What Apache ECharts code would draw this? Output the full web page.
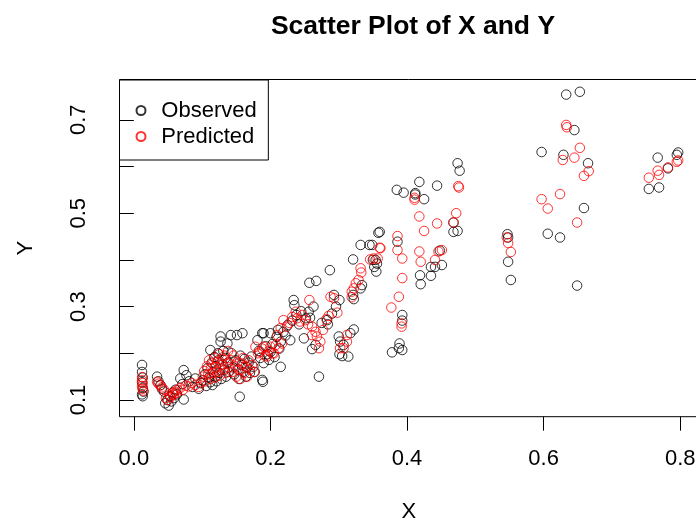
<!DOCTYPE html>
<html><head><meta charset="utf-8">
<script src="https://cdn.jsdelivr.net/npm/echarts@6/dist/echarts.min.js"></script>
<style>html,body{margin:0;padding:0;background:#fff}#c{width:696px;height:521px}</style>
</head><body><div id="c"></div>
<script>
const titleText = 'Scatter Plot of X and Y';
const xName = 'X';
const yName = 'Y';
const seriesNames = ['Observed', 'Predicted'];
const xTicks = [0, 0.2, 0.4, 0.6, 0.8];
const yTicks = [0.1, 0.2, 0.3, 0.4, 0.5, 0.6, 0.7];
const yLabels = [0.1, 0.3, 0.5, 0.7];

const obsX = [
 0.012,0.012,0.013,0.012,0.013,0.014,0.012,0.013,
 0.034,0.036,0.039,0.041,0.044,
 0.046,0.049,0.051,0.053,0.055,0.057,0.059,0.061,0.063,
 0.068,0.071,0.073,0.073,0.077,0.081,0.086,0.090,0.095,0.098,
 0.101,0.104,0.106,0.108,0.110,0.112,0.112,0.114,0.115,0.116,0.118,0.119,0.120,0.121,0.123,0.124,0.125,0.127,0.127,0.128,0.130,0.131,0.133,0.134,0.135,0.137,0.138,0.139,
 0.142,0.143,0.145,0.147,0.149,0.151,0.152,0.154,0.155,0.156,0.158,0.159,0.160,0.162,0.164,0.166,0.168,0.170,0.172,0.175,0.177,
 0.181,0.183,0.185,0.188,0.188,0.189,0.190,0.190,0.193,0.196,0.198,0.200,0.200,0.203,0.206,0.209,0.211,0.213,0.215,0.215,0.219,
 0.222,0.225,0.229,0.232,0.234,0.235,0.238,0.242,0.245,0.249,0.252,0.256,0.257,0.258,0.261,0.263,0.266,0.267,0.271,0.275,
 0.283,0.284,0.287,0.290,0.293,0.296,0.300,0.301,0.301,0.302,0.305,0.307,0.314,0.317,0.321,0.321,0.322,0.322,
 0.332,0.332,0.334,0.345,0.349,0.350,0.352,0.354,0.355,0.356,0.358,0.360,
 0.378,0.385,0.386,0.388,0.389,0.393,0.393,0.393,0.395,
 0.412,0.412,0.418,0.419,0.420,0.425,0.435,0.435,0.441,0.444,0.448,0.451,
 0.468,0.468,0.474,0.474,0.477,
 0.547,0.548,0.548,0.552,
 0.597,0.606,0.624,0.629,0.633,0.645,0.649,0.653,0.659,0.665,
 0.754,0.767,0.769,0.782,0.795,0.797
];
const obsY = [
 0.175,0.160,0.148,0.138,0.126,0.118,0.112,0.108,
 0.150,0.140,0.132,0.124,0.118,
 0.093,0.100,0.088,0.108,0.097,0.116,0.104,0.122,0.112,
 0.146,0.134,0.164,0.101,0.153,0.140,0.128,0.146,0.124,0.136,
 0.142,0.155,0.130,0.168,0.148,0.207,0.138,0.180,0.132,0.160,0.192,0.150,0.172,0.140,0.200,0.185,0.158,0.225,0.236,0.145,0.176,0.205,0.165,0.190,0.150,0.221,0.180,0.160,
 0.239,0.200,0.170,0.155,0.185,0.239,0.165,0.145,0.107,0.195,0.175,0.243,0.160,0.188,0.150,0.170,0.180,0.158,0.193,0.171,0.160,
 0.228,0.205,0.190,0.243,0.143,0.139,0.179,0.243,0.215,0.198,0.186,0.243,0.203,0.220,0.192,0.235,0.250,0.210,0.225,0.171,0.246,
 0.238,0.260,0.228,0.270,0.314,0.303,0.282,0.262,0.290,0.232,0.275,0.289,0.351,0.276,0.209,0.300,0.218,0.355,0.150,0.265,
 0.271,0.262,0.378,0.285,0.325,0.300,0.236,0.314,0.198,0.225,0.194,0.218,0.193,0.243,0.401,0.325,0.316,0.251,
 0.432,0.339,0.346,0.432,0.432,0.400,0.385,0.400,0.375,0.392,0.458,0.460,
 0.202,0.550,0.439,0.211,0.221,0.207,0.282,0.270,0.544,
 0.543,0.540,0.567,0.367,0.348,0.530,0.385,0.366,0.385,0.559,0.420,0.389,
 0.480,0.460,0.462,0.607,0.591,
 0.455,0.448,0.396,0.357,
 0.631,0.456,0.448,0.625,0.754,0.678,0.345,0.760,0.511,0.607,
 0.552,0.619,0.555,0.596,0.625,0.630
];
const predX = [
 0.012,0.012,0.013,0.012,0.013,0.014,
 0.034,0.036,0.039,0.041,0.044,
 0.047,0.050,0.052,0.054,0.056,0.058,0.060,0.062,0.064,
 0.068,0.072,0.076,0.080,0.085,0.090,0.095,0.098,
 0.101,0.103,0.105,0.107,0.109,0.110,0.112,0.113,0.115,0.116,0.118,0.119,0.120,0.122,0.123,0.125,0.126,0.128,0.129,0.131,0.133,0.134,0.136,0.138,0.139,
 0.142,0.144,0.146,0.148,0.150,0.152,0.154,0.156,0.158,0.160,0.162,0.164,0.166,0.168,0.170,0.173,0.176,
 0.178,0.182,0.185,0.188,0.190,0.192,0.195,0.198,0.200,0.203,0.205,0.208,0.210,0.212,0.215,0.217,0.219,
 0.224,0.228,0.232,0.237,0.239,0.243,0.247,0.251,0.255,0.257,0.261,0.261,0.266,0.268,0.271,0.273,0.277,
 0.282,0.285,0.288,0.293,0.298,0.302,0.307,0.312,0.312,0.319,0.319,0.322,
 0.325,0.329,0.332,0.333,0.346,0.351,0.357,0.360,0.361,
 0.377,0.386,0.386,0.388,0.392,0.392,0.393,0.393,
 0.411,0.411,0.418,0.418,0.420,0.425,0.441,0.444,0.446,0.451,
 0.468,0.472,0.475,0.476,
 0.546,0.548,0.552,
 0.597,0.606,0.624,0.628,0.633,0.634,0.645,0.649,0.653,0.659,0.666,
 0.754,0.767,0.769,0.782,0.795,0.797
];
const predY = [
 0.149,0.142,0.136,0.130,0.124,0.120,
 0.139,0.135,0.131,0.127,0.122,
 0.104,0.100,0.110,0.106,0.114,0.111,0.118,0.115,0.122,
 0.126,0.122,0.131,0.129,0.136,0.132,0.128,0.138,
 0.150,0.162,0.140,0.172,0.155,0.185,0.145,0.168,0.178,0.158,0.190,0.148,0.170,0.182,0.160,0.198,0.152,0.175,0.188,0.165,0.195,0.158,0.178,0.205,0.170,
 0.185,0.160,0.195,0.172,0.150,0.182,0.165,0.145,0.178,0.190,0.158,0.172,0.150,0.185,0.165,0.175,0.160,
 0.214,0.200,0.203,0.210,0.214,0.195,0.193,0.205,0.214,0.200,0.200,0.218,0.239,0.211,0.254,0.221,0.271,
 0.257,0.265,0.278,0.289,0.275,0.268,0.282,0.271,0.262,0.314,0.257,0.239,0.246,0.236,0.211,0.225,0.250,
 0.273,0.280,0.321,0.318,0.287,0.211,0.211,0.239,0.225,0.320,0.332,0.339,
 0.350,0.357,0.382,0.373,0.401,0.403,0.403,0.426,0.425,
 0.298,0.451,0.421,0.321,0.264,0.257,0.403,0.361,
 0.533,0.529,0.493,0.418,0.396,0.462,0.400,0.478,0.418,0.421,
 0.480,0.500,0.558,0.555,
 0.448,0.436,0.417,
 0.530,0.510,0.541,0.614,0.689,0.684,0.619,0.480,0.640,0.580,0.590,
 0.576,0.591,0.582,0.598,0.610,0.613
];

const FONT = "'Liberation Sans', Arial, sans-serif";
const zip = (xs, ys) => xs.map((x, i) => [x, ys[i]]);

const chart = echarts.init(document.getElementById('c'), null, {renderer: 'canvas'});
chart.setOption({
  animation: false,
  backgroundColor: '#ffffff',
  title: {
    text: titleText,
    left: 408, top: 8, textAlign: 'center',
    textStyle: {fontFamily: FONT, fontSize: 26.5, fontWeight: 'bold', color: '#000'}
  },
  legend: {
    orient: 'vertical',
    left: 119.5, top: 80,
    padding: [19.5, 11.6, 12.5, 16],
    itemWidth: 30.7, itemHeight: 9, itemGap: 4,
    icon: 'circle',
    borderColor: '#000', borderWidth: 1,
    textStyle: {fontFamily: FONT, fontSize: 22, color: '#000'},
    data: seriesNames
  },
  grid: {left: 119.5, top: 79.5, right: -2, bottom: 104.3, show: true,
    borderColor: '#000', borderWidth: 1, backgroundColor: 'transparent',
    containLabel: false, outerBoundsMode: 'none'},
  xAxis: {
    type: 'value', min: -0.021, max: 0.826,
    name: xName, nameLocation: 'middle', nameGap: 84,
    nameTextStyle: {fontFamily: FONT, fontSize: 22, color: '#000'},
    splitLine: {show: false},
    axisLine: {show: false},
    axisTick: {show: true, length: 14, inside: false, customValues: xTicks, lineStyle: {color: '#000', width: 1}},
    axisLabel: {customValues: xTicks, margin: 31, fontFamily: FONT, fontSize: 22, color: '#000',
      formatter: v => v.toFixed(1)}
  },
  yAxis: {
    type: 'value', min: 0.0642, max: 0.7863,
    name: yName, nameLocation: 'middle', nameGap: 83,
    nameTextStyle: {fontFamily: FONT, fontSize: 22, color: '#000'},
    splitLine: {show: false},
    axisLine: {show: false},
    axisTick: {show: true, length: 14, inside: false, customValues: yTicks, lineStyle: {color: '#000', width: 1}},
    axisLabel: {customValues: yLabels, margin: 30, rotate: 90, fontFamily: FONT, fontSize: 22, color: '#000',
      formatter: v => v.toFixed(1)}
  },
  series: [
    {name: seriesNames[0], type: 'scatter', symbol: 'circle', symbolSize: 9.5,
     data: zip(obsX, obsY), silent: true,
     itemStyle: {color: 'rgba(0,0,0,0)', borderColor: '#000', borderWidth: 1}},
    {name: seriesNames[1], type: 'scatter', symbol: 'circle', symbolSize: 9.5,
     data: zip(predX, predY), silent: true,
     itemStyle: {color: 'rgba(0,0,0,0)', borderColor: '#ff0000', borderWidth: 1}}
  ]
});
</script></body></html>
